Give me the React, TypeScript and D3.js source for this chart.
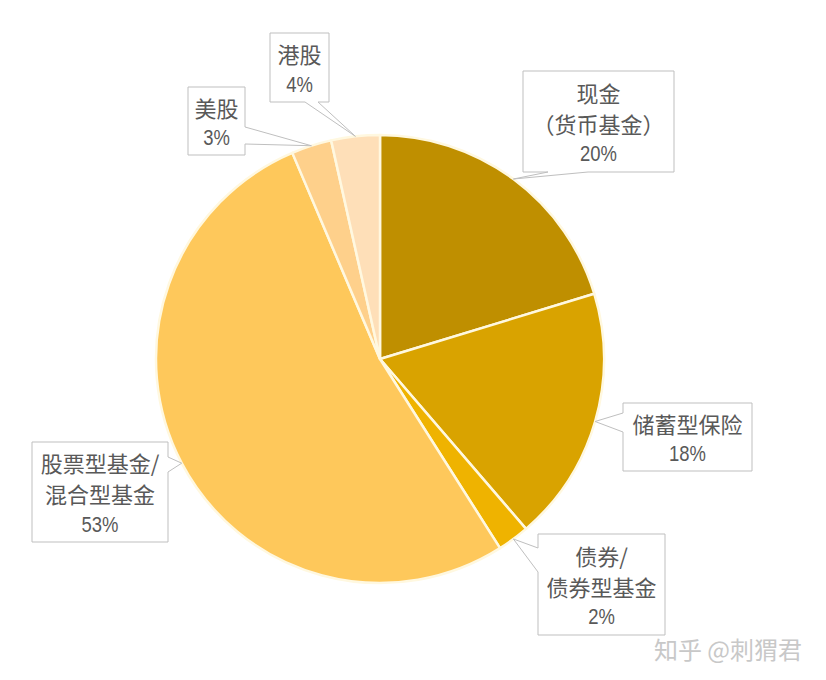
import React from "react";
import * as d3 from "d3";

const W = 826;
const H = 680;

// slices clockwise from 12 o'clock
const categories = ["现金（货币基金）", "储蓄型保险", "债券/债券型基金", "股票型基金/混合型基金", "美股", "港股"];
const labelLines = [
  ["现金", "（货币基金）"],
  ["储蓄型保险"],
  ["债券/", "债券型基金"],
  ["股票型基金/", "混合型基金"],
  ["美股"],
  ["港股"],
];
const values = [20.3, 18.4, 2.3, 52.6, 2.9, 3.5];
const colors = ["#BF8F00", "#D9A300", "#EFB300", "#FEC85B", "#FED08B", "#FEDFB8"];

// callout boxes: [x0, y0, x1, y1], side the pointer leaves from, pointer base span
const callouts = [
  { box: [523, 71, 674, 172], side: "bottom", base: [548, 588] },
  { box: [623, 403, 752, 471], side: "left", base: [413, 432] },
  { box: [538, 534, 665, 635], side: "left", base: [548, 572] },
  { box: [32, 442, 168, 542], side: "right", base: [457, 472] },
  { box: [188, 87, 245, 155], side: "right", base: [127, 144] },
  { box: [270, 33, 329, 102], side: "bottom", base: [305, 318] },
];

const CX = 380;
const CY = 359;
const R = 224;

const calloutPath = (c: any, ax: number, ay: number) => {
  const [x0, y0, x1, y1] = c.box;
  const [b0, b1] = c.base;
  const p = d3.path();
  p.moveTo(x0, y0);
  if (c.side === "top") { p.lineTo(b0, y0); p.lineTo(ax, ay); p.lineTo(b1, y0); }
  p.lineTo(x1, y0);
  if (c.side === "right") { p.lineTo(x1, b0); p.lineTo(ax, ay); p.lineTo(x1, b1); }
  p.lineTo(x1, y1);
  if (c.side === "bottom") { p.lineTo(b1, y1); p.lineTo(ax, ay); p.lineTo(b0, y1); }
  p.lineTo(x0, y1);
  if (c.side === "left") { p.lineTo(x0, b1); p.lineTo(ax, ay); p.lineTo(x0, b0); }
  p.closePath();
  return p.toString();
};

export default function App() {
  const pie = d3.pie<number>().sort(null).value((d) => d);
  const arcs = pie(values);
  const arc = d3.arc<d3.PieArcDatum<number>>().innerRadius(0).outerRadius(R);
  const edge = d3.arc<d3.PieArcDatum<number>>().innerRadius(R).outerRadius(R);
  const total = d3.sum(values);

  return (
    <svg width={W} height={H} style={{ position: "absolute", left: 0, top: 0, background: "#fff" }}>
      <g transform={`translate(${CX},${CY})`}>
        {arcs.map((a, i) => (
          <path key={categories[i]} d={arc(a) as string} fill={colors[i]} stroke="#FFF8E0" strokeWidth={2.5} strokeLinejoin="round" />
        ))}
      </g>
      {arcs.map((a, i) => {
        const c = callouts[i];
        const [ex, ey] = edge.centroid(a);
        const lines = [...labelLines[i], `${Math.round((values[i] / total) * 100)}%`];
        const [x0, y0, x1, y1] = c.box;
        const mx = (x0 + x1) / 2;
        const my = (y0 + y1) / 2 + 1;
        const step = 31;
        return (
          <g key={categories[i]}>
            <path d={calloutPath(c, CX + ex, CY + ey)} fill="#fff" stroke="#BFBFBF" strokeWidth={1} />
            {lines.map((t, j) => {
              const isPct = j === lines.length - 1;
              const ty = my + (j - (lines.length - 1) / 2) * step;
              return (
                <text
                  key={j}
                  transform={`translate(${mx},${ty}) scale(${isPct ? 0.84 : 1},1)`}
                  textAnchor="middle"
                  dominantBaseline="central"
                  fill="#595959"
                  fontSize={isPct ? 22 : 22}
                  fontFamily={isPct ? "'Liberation Sans', sans-serif" : "'Noto Sans CJK SC', sans-serif"}
                >
                  {t}
                </text>
              );
            })}
          </g>
        );
      })}
      <text x={728} y={648} textAnchor="middle" dominantBaseline="central" fill="#C8C8C8" fontSize={24} fontFamily="'Noto Sans CJK SC', sans-serif">
        知乎 @刺猬君
      </text>
    </svg>
  );
}
